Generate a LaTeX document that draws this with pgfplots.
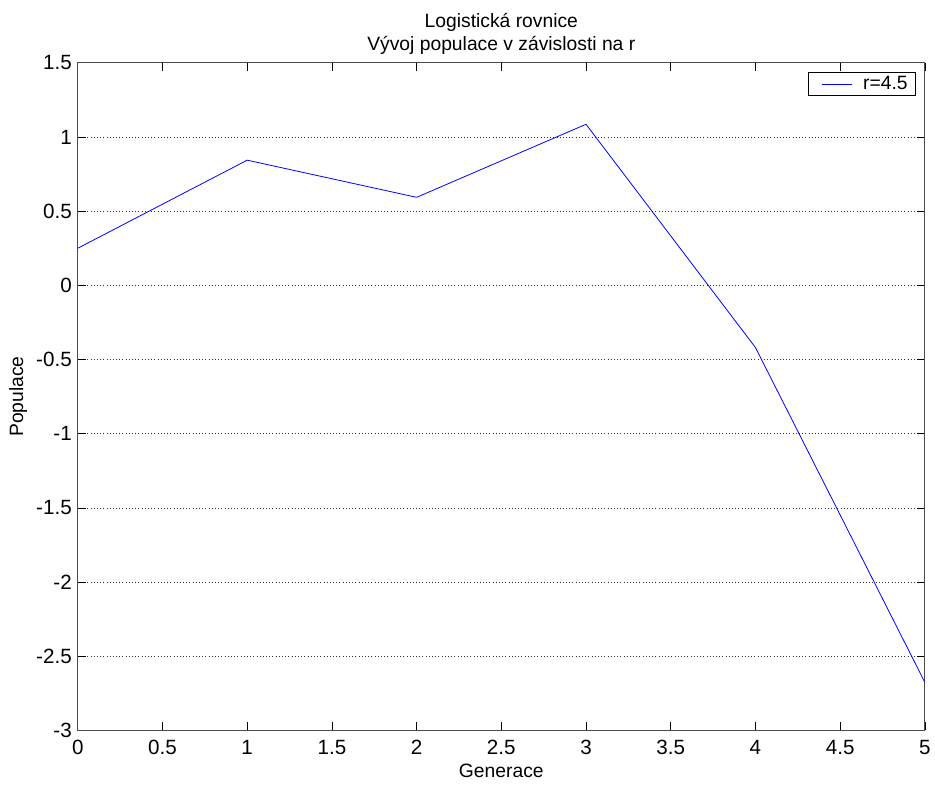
\documentclass[border=0pt]{standalone}
\usepackage{pgfplots}
\pgfplotsset{compat=1.18}
\usepackage{fontspec}
\setmainfont{Liberation Sans}
\begin{document}
\begin{tikzpicture}
\begin{axis}[
  scale only axis,
  width=637pt, height=502pt,
  font=\fontsize{14.5pt}{17pt}\selectfont,
  xmin=0, xmax=5, ymin=-3, ymax=1.5,
  xtick={0,0.5,...,5}, ytick={-3,-2.5,...,1.5},
  /pgf/number format/assume math mode=true,
  /pgf/number format/.cd, fixed, precision=1, /pgfplots/.cd,
  tick label style={font=\fontsize{15.5pt}{17pt}\selectfont},
  xticklabel style={yshift=-4pt},
  yticklabel style={xshift=-1pt},
  tick align=inside, major tick length=6pt,
  tick style={black, line width=0.5pt},
  axis line style={line width=0.6pt, black!70},
  ymajorgrids,
  major grid style={dotted, black!80, line width=0.5pt},
  xlabel={Generace}, ylabel={Populace},
  label style={font=\fontsize{14.5pt}{17pt}\selectfont},
  xlabel style={yshift=0pt},
  ylabel style={yshift=0pt},
  title={Logistická rovnice\\Vývoj populace v závislosti na r},
  title style={align=center, yshift=-3pt, font=\fontsize{14.5pt}{17pt}\selectfont},
  legend style={at={(0.9895,0.986)}, anchor=north east, draw=black,
    line width=0.5pt, font=\fontsize{14.5pt}{16pt}\selectfont,
    inner xsep=4pt, inner ysep=1pt},
  legend cell align=left,
  legend image code/.code={\path (-6pt,0pt); \draw[#1] (0pt,0pt) -- (23pt,0pt); \path (29pt,0pt);},
]
\addplot[blue, line width=0.6pt] coordinates {
  (0,0.25) (1,0.84375) (2,0.59326) (3,1.08578) (4,-0.41913) (5,-2.67610)
};
\addlegendentry{r=4.5}
\end{axis}
\path (current axis.south west) ++(-58.5pt,-41.25pt) coordinate (bl);
\path (current axis.north east) ++(6pt,47.25pt) coordinate (tr);
\useasboundingbox (bl) rectangle (tr);
\end{tikzpicture}
\end{document}
